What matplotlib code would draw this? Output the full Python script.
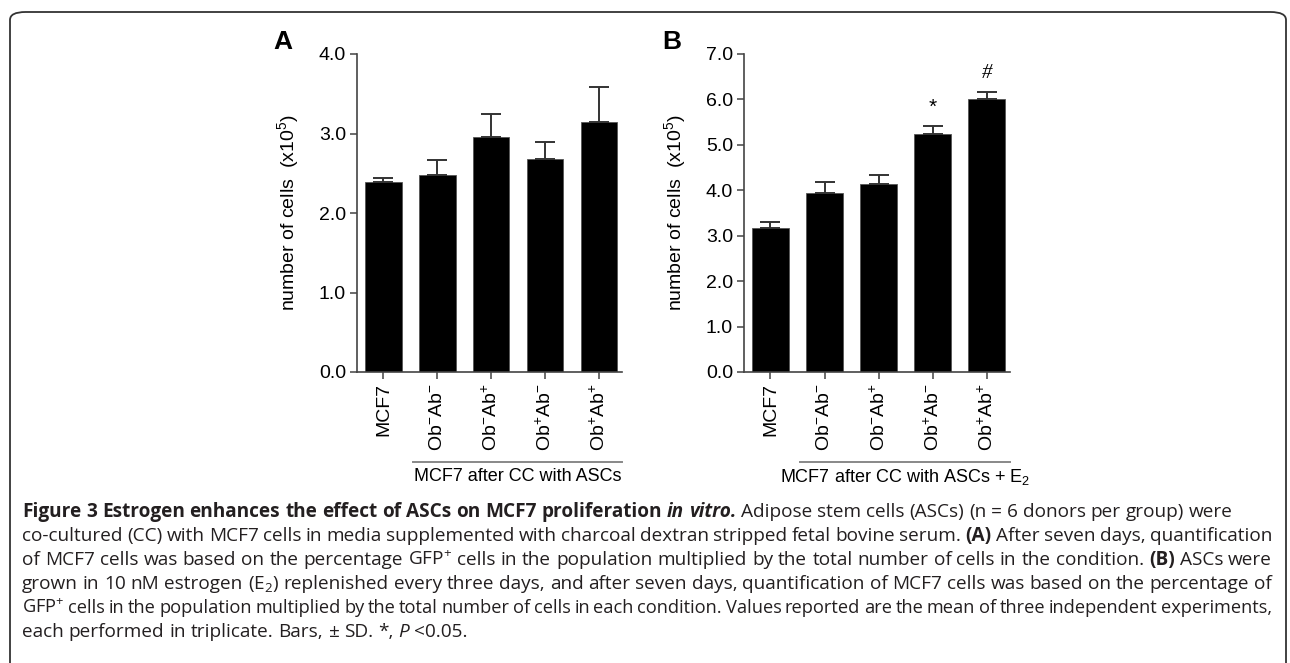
import matplotlib
matplotlib.use("Agg")
import matplotlib.pyplot as plt
from matplotlib.patches import FancyBboxPatch
import matplotlib.transforms as mtransforms

W, H = 1290, 663

# ---------------- data ----------------
categories = ["MCF7", r"Ob$^{-}$Ab$^{-}$", r"Ob$^{-}$Ab$^{+}$",
              r"Ob$^{+}$Ab$^{-}$", r"Ob$^{+}$Ab$^{+}$"]
a_means = [2.39, 2.48, 2.96, 2.68, 3.14]
a_sd = [0.05, 0.19, 0.28, 0.21, 0.45]
b_means = [3.16, 3.93, 4.13, 5.25, 6.00]
b_sd = [0.15, 0.26, 0.20, 0.16, 0.16]
b_marks = ["", "", "", "*", "#"]
a_yticks = [0.0, 1.0, 2.0, 3.0, 4.0]
b_yticks = [0.0, 1.0, 2.0, 3.0, 4.0, 5.0, 6.0, 7.0]
a_group = "MCF7 after CC with ASCs"
b_group = r"MCF7 after CC with ASCs + E$_{2}$"
ylabel = r"number of cells  (x10$^{5}$)"

plt.rcParams["font.family"] = ["Liberation Sans", "DejaVu Sans"]
plt.rcParams["mathtext.fontset"] = "custom"
plt.rcParams["mathtext.rm"] = "Liberation Sans"
plt.rcParams["mathtext.it"] = "Liberation Sans:italic"
plt.rcParams["mathtext.bf"] = "Liberation Sans:bold"

fig = plt.figure(figsize=(W / 100, H / 100), dpi=100)

# rounded border
border = FancyBboxPatch((10 / W, -30 / H), (1286 - 10) / W, (H + 30 - 12) / H,
                        boxstyle="round,pad=0,rounding_size=0.012",
                        transform=fig.transFigure, fill=False,
                        edgecolor="#333333", linewidth=1.3, clip_on=False)
fig.patches.append(border)

SP = "#444444"


def axes_px(l, r, top, bottom):
    return [l / W, 1 - bottom / H, (r - l) / W, (bottom - top) / H]


def panel(rect, means, sd, yticks, group, marks, letter, letter_x):
    ax = fig.add_axes(rect)
    x = list(range(len(means)))
    ax.bar(x, means, width=0.68, color="black", edgecolor="#555555", linewidth=0.6,
           yerr=[[0] * len(sd), sd], capsize=7,
           error_kw=dict(ecolor="#333333", elinewidth=1.4, capthick=1.4), zorder=2)
    ax.set_xlim(-0.49, 4.43)
    ax.set_ylim(yticks[0], yticks[-1])
    ax.set_yticks(yticks)
    ax.set_yticklabels([f"{v:.1f}" for v in yticks], fontsize=14)
    ax.set_xticks(x)
    ax.set_xticklabels(categories, rotation=90, fontsize=14)
    for s in ["top", "right"]:
        ax.spines[s].set_visible(False)
    for s in ["left", "bottom"]:
        ax.spines[s].set_color(SP)
        ax.spines[s].set_linewidth(1.2)
    ax.tick_params(direction="out", length=5, width=1.1, color=SP, pad=3)
    ax.set_ylabel(ylabel, fontsize=14, va="center")
    ax.yaxis.set_label_coords(-0.26, 0.5)
    for xi, (m, s, e) in enumerate(zip(means, sd, marks)):
        if e:
            fam = "Liberation Serif" if e == "#" else "Liberation Sans"
            ax.annotate(e, (xi, m + s), xytext=(0, 10), textcoords="offset points",
                        ha="center", va="baseline", fontsize=15, family=fam,
                        style="italic" if e == "#" else "normal", annotation_clip=False)
    tr = mtransforms.blended_transform_factory(ax.transData, ax.transAxes)
    ax.plot([0.55, 4.43], [-0.283, -0.283], color="#888888", lw=1.4,
            transform=tr, clip_on=False)
    ax.text(2.49, -0.33, group, transform=tr, ha="center", va="center", fontsize=13)
    fig.text(letter_x / W, 1 - 42 / H, letter, fontsize=19, weight="bold",
             ha="center", va="center")
    return ax


panel(axes_px(357, 622, 54, 372), a_means, a_sd, a_yticks, a_group,
      [""] * 5, "A", 283)
panel(axes_px(744, 1010, 54, 372), b_means, b_sd, b_yticks, b_group,
      b_marks, "B", 672)

# ---------------- caption ----------------
caption = [
    ([("Figure 3 Estrogen enhances the effect of ASCs on MCF7 proliferation", "b"),
      ("in vitro.", "bi"),
      ("Adipose stem cells (ASCs) (n = 6 donors per group) were", "r")], False),
    ([("co-cultured (CC) with MCF7 cells in media supplemented with charcoal dextran "
       "stripped fetal bovine serum.", "r"), ("(A)", "b"),
      ("After seven days, quantification", "r")], True),
    ([(r"of MCF7 cells was based on the percentage GFP$\mathregular{^{+}}$ cells in the "
       "population multiplied by the total number of cells in the condition.", "r"),
      ("(B)", "b"), ("ASCs were", "r")], True),
    ([(r"grown in 10 nM estrogen (E$\mathregular{_{2}}$) replenished every three days, and "
       "after seven days, quantification of MCF7 cells was based on the percentage of", "r")],
     True),
    ([(r"GFP$\mathregular{^{+}}$ cells in the population multiplied by the total number of "
       "cells in each condition. Values reported are the mean of three independent "
       "experiments,", "r")], True),
    ([(r"each performed in triplicate. Bars, $\mathregular{\pm}$ SD. *,", "r"), ("P", "i"),
      ("<0.05.", "r")], False),
]

CFONT = ["Open Sans", "DejaVu Sans"]
CCOL = "#231f20"
renderer = fig.canvas.get_renderer()
X0, X1 = 22, 1272
base_y = [517, 541, 565, 589, 613, 637]


def words_of(line):
    out = []
    for seg, st in line:
        for w in seg.split(" "):
            if w:
                out.append((w, st))
    return out


def make_texts(words, size):
    ts = []
    for w, st in words:
        t = fig.text(0, 0, w, fontsize=size, family=CFONT, color=CCOL,
                     weight="bold" if "b" in st else "normal",
                     style="italic" if "i" in st else "normal",
                     ha="left", va="baseline")
        ts.append(t)
    return ts


def space_w(size):
    t1 = fig.text(0, 0, "n n", fontsize=size, family=CFONT)
    t2 = fig.text(0, 0, "nn", fontsize=size, family=CFONT)
    w = t1.get_window_extent(renderer).width - t2.get_window_extent(renderer).width
    t1.remove(); t2.remove()
    return w


size0 = 12
w1 = words_of(caption[0][0])
tmp = make_texts(w1, size0)
nat = sum(t.get_window_extent(renderer).width for t in tmp) + space_w(size0) * (len(tmp) - 1)
for t in tmp:
    t.remove()
csize = size0 * (1232 - X0) / nat

sw = space_w(csize)
for (line, just), by in zip(caption, base_y):
    words = words_of(line)
    size = csize
    ts = make_texts(words, size)
    widths = [t.get_window_extent(renderer).width for t in ts]
    n = len(ts)
    if just and n > 1:
        gap = (X1 - X0 - sum(widths)) / (n - 1)
        if gap < 0.75 * sw:
            k = (X1 - X0) / (sum(widths) + 0.75 * sw * (n - 1))
            for t in ts:
                t.remove()
            size = csize * k
            ts = make_texts(words, size)
            widths = [t.get_window_extent(renderer).width for t in ts]
            gap = (X1 - X0 - sum(widths)) / (n - 1)
    else:
        gap = sw
    x = X0
    for t, w in zip(ts, widths):
        t.set_position((x / W, 1 - by / H))
        x += w + gap

fig.savefig("out.png", dpi=100)
